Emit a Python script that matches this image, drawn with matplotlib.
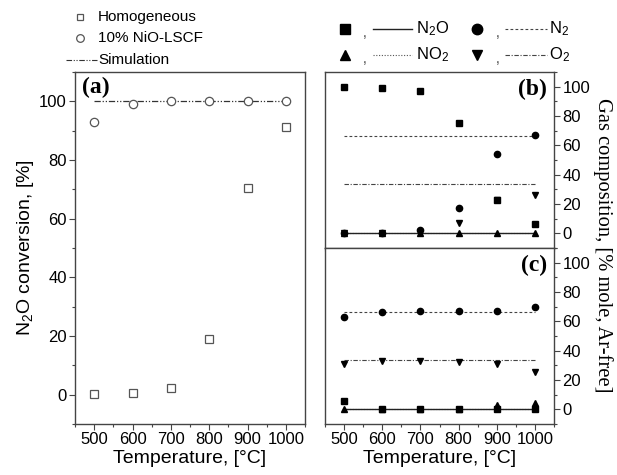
import numpy as np
import matplotlib
matplotlib.use('Agg')
import matplotlib.pyplot as plt
from matplotlib.lines import Line2D
from matplotlib.ticker import MultipleLocator

plt.rcParams['font.family'] = ['Liberation Sans', 'DejaVu Sans']
plt.rcParams['mathtext.fontset'] = 'custom'
plt.rcParams['mathtext.rm'] = 'Liberation Sans'
plt.rcParams['mathtext.it'] = 'Liberation Sans:italic'

temp = [500, 600, 700, 800, 900, 1000]

# panel (a): N2O conversion, %
homog = [0.2, 0.6, 2.2, 19.1, 70.3, 91.1]
nio_lscf = [92.8, 99.2, 100, 100, 100, 100]
sim_conv = [100, 100, 100, 100, 100, 100]

# panel (b): homogeneous gas composition, % mole Ar-free
b_n2o = [99.5, 99, 97, 75, 23, 6.4]
b_n2 = [0, 0, 2, 17.4, 54, 67]
b_no2 = [0, 0, 0, 0, 0, 0]
b_o2 = [0, 0, 1, 7, 22.6, 26]

# panel (c): 10% NiO-LSCF gas composition
c_n2o = [6, 0, 0, 0, 0, 0]
c_n2 = [63.1, 66.5, 67, 67, 67, 70]
c_no2 = [0, 0, 0, 0, 2.7, 4.3]
c_o2 = [30.7, 32.8, 32.8, 32.3, 30.7, 25.5]

# simulation lines in (b) and (c)
sim_n2o = [0, 0, 0, 0, 0, 0]
sim_n2 = [66.7, 66.7, 66.7, 66.7, 66.7, 66.7]
sim_no2 = [0, 0, 0, 0, 0, 0]
sim_o2 = [33.3, 33.3, 33.3, 33.3, 33.3, 33.3]

W, H = 617, 475
fig = plt.figure(figsize=(W / 100, H / 100), dpi=100)


def box(l, t, r, b):
    return [l / W, 1 - b / H, (r - l) / W, (b - t) / H]


spine_col = '#444444'


def style(ax, right=False, xlabels=True):
    ax.set_xlim(450, 1050)
    ax.set_ylim(-10, 110)
    ax.xaxis.set_major_locator(MultipleLocator(100))
    ax.xaxis.set_minor_locator(MultipleLocator(50))
    ax.yaxis.set_major_locator(MultipleLocator(20))
    ax.yaxis.set_minor_locator(MultipleLocator(10))
    for s in ax.spines.values():
        s.set_color(spine_col)
        s.set_linewidth(1)
    ax.tick_params(which='both', direction='out', colors=spine_col, labelcolor='black',
                   labelsize=12, top=False, left=not right, right=right,
                   labelleft=not right, labelright=right, labelbottom=xlabels)
    ax.tick_params(which='major', length=4, width=0.8, pad=2)
    ax.tick_params(which='minor', length=2.5, width=0.8)


# (a)
ax1 = fig.add_axes(box(75, 72, 305, 424))
style(ax1)
ax1.plot(temp, sim_conv, color='#333333', lw=0.9, dashes=[5, 1.5, 1, 1.5, 1, 1.5])
ax1.plot(temp, homog, 's', mfc='white', mec='#555555', ms=5.5, mew=0.9, ls='none')
ax1.plot(temp, nio_lscf, 'o', mfc='white', mec='#555555', ms=6, mew=0.9, ls='none')
ax1.set_xlabel('Temperature, [°C]', fontsize=14, labelpad=2)
ax1.set_ylabel('N$_2$O conversion, [%]', fontsize=14, labelpad=2)
ax1.text(0.03, 0.985, '(a)', transform=ax1.transAxes, ha='left', va='top',
         fontsize=17, fontweight='bold', family='Liberation Serif')

# (b) and (c)
ax2 = fig.add_axes(box(325, 72, 554, 248))
ax3 = fig.add_axes(box(325, 248, 554, 424))
style(ax2, right=True, xlabels=False)
style(ax3, right=True)

panels = [(ax2, b_n2o, b_n2, b_no2, b_o2, '(b)'),
          (ax3, c_n2o, c_n2, c_no2, c_o2, '(c)')]
for ax, n2o, n2, no2, o2, lab in panels:
    ax.plot(temp, sim_no2, color='#555555', lw=0.8, ls=(0, (1, 1.5)))
    ax.plot(temp, sim_n2o, color='#222222', lw=1)
    ax.plot(temp, sim_n2, color='#444444', lw=0.8, ls=(0, (2.5, 2)))
    ax.plot(temp, sim_o2, color='#444444', lw=0.8, ls=(0, (4, 1.5, 1, 1.5)))
    ax.plot(temp, n2o, 's', color='black', ms=4, ls='none')
    ax.plot(temp, n2, 'o', color='black', ms=4.5, ls='none')
    ax.plot(temp, no2, '^', color='black', ms=4.5, ls='none')
    ax.plot(temp, o2, 'v', color='black', ms=4.5, ls='none')
    ax.text(0.97, 0.96, lab, transform=ax.transAxes, ha='right', va='top',
            fontsize=17, fontweight='bold', family='Liberation Serif')

ax3.set_xlabel('Temperature, [°C]', fontsize=14, labelpad=2)
fig.text(603 / W, 1 - 245 / H, 'Gas composition, [% mole, Ar-free]', rotation=-90,
         ha='center', va='center', fontsize=14.8, family='Liberation Serif')


# legends drawn in figure pixels
def fx(x):
    return x / W


def fy(y):
    return 1 - y / H


def add_mark(x, y, **kw):
    fig.add_artist(Line2D([fx(x)], [fy(y)], transform=fig.transFigure, ls='none', **kw))


def add_line(x0, x1, y, **kw):
    fig.add_artist(Line2D([fx(x0), fx(x1)], [fy(y), fy(y)], transform=fig.transFigure, **kw))


# left legend
add_mark(80, 17, marker='s', mfc='white', mec='#555555', ms=5, mew=0.9)
add_mark(80, 38, marker='o', mfc='white', mec='#555555', ms=5.5, mew=0.9)
add_line(66, 97, 60, color='#333333', lw=0.8, dashes=[5, 1.5, 1, 1.5, 1, 1.5])
for y, t in [(17, 'Homogeneous'), (38, '10% NiO-LSCF'), (60, 'Simulation')]:
    fig.text(fx(98), fy(y), t, ha='left', va='center', fontsize=11)

# right legend
rows = [
    (29, 's', dict(color='#222222', lw=1), 'N$_2$O', 'o', dict(color='#444444', lw=0.8, ls=(0, (2.5, 2))), 'N$_2$'),
    (55, '^', dict(color='#555555', lw=0.8, ls=(0, (1, 1.5))), 'NO$_2$', 'v', dict(color='#444444', lw=0.8, ls=(0, (4, 1.5, 1, 1.5))), 'O$_2$'),
]
for y, m1, l1, t1, m2, l2, t2 in rows:
    add_mark(345, y, marker=m1, color='black', ms=7.5)
    fig.text(fx(365), fy(y + 4), ',', ha='center', va='center', fontsize=10, color='#444444')
    add_line(373, 412, y, **l1)
    fig.text(fx(416), fy(y), t1, ha='left', va='center', fontsize=12)
    add_mark(477, y, marker=m2, color='black', ms=7.5)
    fig.text(fx(498), fy(y + 4), ',', ha='center', va='center', fontsize=10, color='#444444')
    add_line(505, 547, y, **l2)
    fig.text(fx(549), fy(y), t2, ha='left', va='center', fontsize=12)

fig.savefig('out.png', dpi=100)
